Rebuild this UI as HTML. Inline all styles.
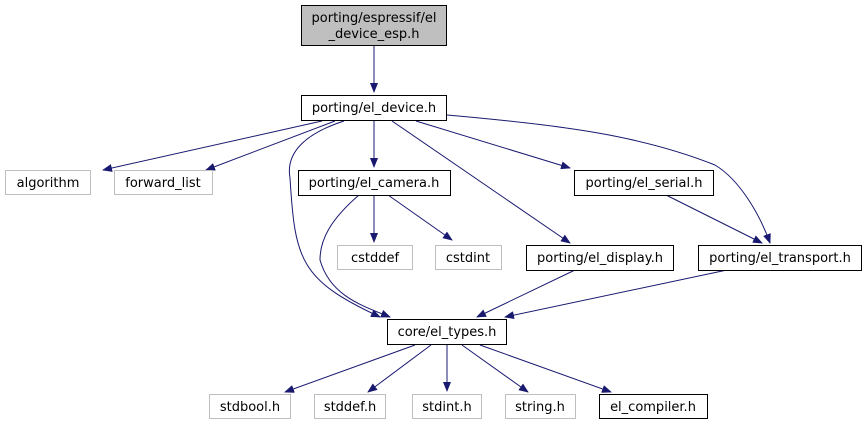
<!DOCTYPE html>
<html><head><style>body{margin:0;background:#fff}</style></head><body>
<svg width="867" height="425" viewBox="0 0 867 425" xmlns="http://www.w3.org/2000/svg" font-family="DejaVu Sans, Liberation Sans, sans-serif" font-size="13">
<defs><marker id="a" markerWidth="10" markerHeight="8" refX="9" refY="4" orient="auto" markerUnits="userSpaceOnUse"><path d="M0,0L10,4L0,8z" fill="#191970"/></marker></defs>
<g fill="none" stroke="#191970" stroke-width="1" marker-end="url(#a)">
<path d="M374,45V92"/>
<path d="M322,121L103,170"/>
<path d="M335,121L206,170"/>
<path d="M374,121V167"/>
<path d="M344,121C310,132 285,150 290,178C295,260 300,280 380,317"/>
<path d="M392,121L570,243"/>
<path d="M416,121L570,168"/>
<path d="M447,115C560,125 640,135 715,165C740,180 760,215 770,243"/>
<path d="M359,195C330,220 320,240 320,260C330,295 360,305 390,317"/>
<path d="M374,195V242"/>
<path d="M388,195L452,240"/>
<path d="M575,270L477,317"/>
<path d="M727,270L505,317"/>
<path d="M666,195L762,243"/>
<path d="M415,345L285,392"/>
<path d="M431,345L368,392"/>
<path d="M447,345V391"/>
<path d="M462,345L528,392"/>
<path d="M480,345L611,392"/>
</g>
<g stroke-width="1">
<rect x="301.5" y="5.5" width="145" height="40" fill="#bfbfbf" stroke="#000"/>
<rect x="301.5" y="95.5" width="145" height="25" fill="#fff" stroke="#000"/>
<rect x="5.5" y="170.5" width="85" height="24" fill="#fff" stroke="#bfbfbf"/>
<rect x="114.5" y="170.5" width="98" height="24" fill="#fff" stroke="#bfbfbf"/>
<rect x="298.5" y="170.5" width="152" height="25" fill="#fff" stroke="#000"/>
<rect x="574.5" y="170.5" width="139" height="25" fill="#fff" stroke="#000"/>
<rect x="337.5" y="245.5" width="75" height="24" fill="#fff" stroke="#bfbfbf"/>
<rect x="435.5" y="245.5" width="66" height="24" fill="#fff" stroke="#bfbfbf"/>
<rect x="526.5" y="245.5" width="147" height="25" fill="#fff" stroke="#000"/>
<rect x="698.5" y="245.5" width="163" height="25" fill="#fff" stroke="#000"/>
<rect x="387.5" y="319.5" width="119" height="25" fill="#fff" stroke="#000"/>
<rect x="209.5" y="394.5" width="81" height="24" fill="#fff" stroke="#bfbfbf"/>
<rect x="314.5" y="394.5" width="71" height="24" fill="#fff" stroke="#bfbfbf"/>
<rect x="412.5" y="394.5" width="69" height="24" fill="#fff" stroke="#bfbfbf"/>
<rect x="505.5" y="394.5" width="70" height="24" fill="#fff" stroke="#bfbfbf"/>
<rect x="599.5" y="394.5" width="108" height="24" fill="#fff" stroke="#000"/>
</g>
<g text-anchor="middle" fill="#000">
<text x="374" y="22">porting/espressif/el</text>
<text x="374" y="38">_device_esp.h</text>
<text x="374" y="112">porting/el_device.h</text>
<text x="48" y="187">algorithm</text>
<text x="163" y="187">forward_list</text>
<text x="374" y="187">porting/el_camera.h</text>
<text x="644" y="187">porting/el_serial.h</text>
<text x="375" y="262">cstddef</text>
<text x="468" y="262">cstdint</text>
<text x="600" y="262">porting/el_display.h</text>
<text x="780" y="262">porting/el_transport.h</text>
<text x="447" y="336">core/el_types.h</text>
<text x="250" y="411">stdbool.h</text>
<text x="350" y="411">stddef.h</text>
<text x="447" y="411">stdint.h</text>
<text x="540" y="411">string.h</text>
<text x="653" y="411">el_compiler.h</text>
</g>
</svg>
</body></html>
